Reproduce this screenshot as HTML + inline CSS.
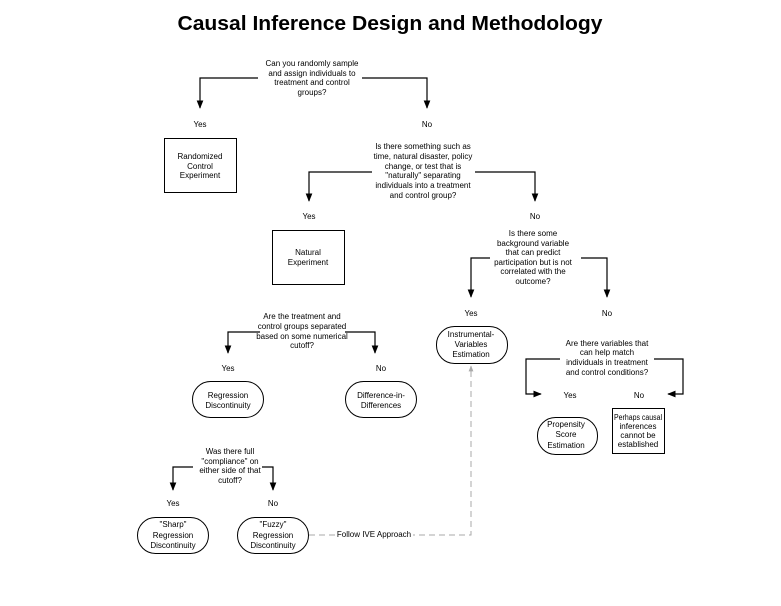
<!DOCTYPE html>
<html><head><meta charset="utf-8"><style>
html,body{margin:0;padding:0;background:#fff;width:781px;height:606px;overflow:hidden}
svg{display:block}
text{font-family:"Liberation Sans",sans-serif;font-size:8px;fill:#000;text-anchor:middle}
.t{font-size:20px;font-weight:bold}
.l{fill:none;stroke:#000;stroke-width:1.2}
.b{fill:#fff;stroke:#000;stroke-width:1}
</style></head><body>
<svg width="781" height="606" viewBox="0 0 781 606">
<defs><marker id="a" viewBox="0 0 10 10" refX="9" refY="5" markerWidth="7" markerHeight="7" orient="auto"><path d="M0,1 L10,5 L0,9 z" fill="#000"/></marker>
<marker id="g" viewBox="0 0 10 10" refX="9" refY="5" markerWidth="6" markerHeight="6" orient="auto"><path d="M0,1 L10,5 L0,9 z" fill="#aaa"/></marker></defs>
<text class="t" x="390" y="30" textLength="425" lengthAdjust="spacingAndGlyphs">Causal Inference Design and Methodology</text>

<text x="312" y="66">Can you randomly sample</text><text x="312" y="76">and assign individuals to</text><text x="312" y="85">treatment and control</text><text x="312" y="95">groups?</text>
<path class="l" d="M258,78 H200 V108" marker-end="url(#a)"/><path class="l" d="M362,78 H427 V108" marker-end="url(#a)"/>
<text x="200" y="127">Yes</text><text x="427" y="127">No</text>
<rect class="b" x="164.5" y="138.5" width="72" height="54"/>
<text x="200" y="159">Randomized</text><text x="200" y="169">Control</text><text x="200" y="178">Experiment</text>

<text x="423" y="149">Is there something such as</text><text x="423" y="159">time, natural disaster, policy</text><text x="423" y="169">change, or test that is</text><text x="423" y="178">"naturally" separating</text><text x="423" y="188">individuals into a treatment</text><text x="423" y="198">and control group?</text>
<path class="l" d="M372,172 H309 V201" marker-end="url(#a)"/><path class="l" d="M475,172 H535 V201" marker-end="url(#a)"/>
<text x="309" y="219">Yes</text><text x="535" y="219">No</text>
<rect class="b" x="272.5" y="230.5" width="72" height="54"/>
<text x="308" y="255">Natural</text><text x="308" y="265">Experiment</text>

<text x="533" y="236">Is there some</text><text x="533" y="246">background variable</text><text x="533" y="255">that can predict</text><text x="533" y="265">participation but is not</text><text x="533" y="274">correlated with the</text><text x="533" y="284">outcome?</text>
<path class="l" d="M490,258 H471 V297" marker-end="url(#a)"/><path class="l" d="M581,258 H607 V297" marker-end="url(#a)"/>
<text x="471" y="316">Yes</text><text x="607" y="316">No</text>
<rect class="b" x="436.5" y="326.5" width="71" height="37" rx="18"/>
<text x="471" y="337">Instrumental-</text><text x="471" y="347">Variables</text><text x="471" y="357">Estimation</text>

<text x="302" y="319">Are the treatment and</text><text x="302" y="329">control groups separated</text><text x="302" y="339">based on some numerical</text><text x="302" y="348">cutoff?</text>
<path class="l" d="M260,332 H228 V353" marker-end="url(#a)"/><path class="l" d="M345,332 H375 V353" marker-end="url(#a)"/>
<text x="228" y="371">Yes</text><text x="381" y="371">No</text>
<rect class="b" x="192.5" y="381.5" width="71" height="36" rx="18"/>
<text x="228" y="398">Regression</text><text x="228" y="408">Discontinuity</text>
<rect class="b" x="345.5" y="381.5" width="71" height="36" rx="18"/>
<text x="381" y="398">Difference-in-</text><text x="381" y="408">Differences</text>

<text x="607" y="346">Are there variables that</text><text x="607" y="355">can help match</text><text x="607" y="365">individuals in treatment</text><text x="607" y="375">and control conditions?</text>
<path class="l" d="M560,359 H526 V394 H541" marker-end="url(#a)"/><path class="l" d="M654,359 H683 V394 H668" marker-end="url(#a)"/>
<text x="570" y="398">Yes</text><text x="639" y="398">No</text>
<rect class="b" x="537.5" y="417.5" width="60" height="37" rx="18"/>
<text x="566" y="427">Propensity</text><text x="566" y="437">Score</text><text x="566" y="448">Estimation</text>
<rect class="b" x="612.5" y="408.5" width="52" height="45"/>
<text x="638" y="420" font-size="7" textLength="48" lengthAdjust="spacingAndGlyphs">Perhaps causal</text><text x="638" y="429" font-size="7">inferences</text><text x="638" y="438" font-size="7">cannot be</text><text x="638" y="447" font-size="7">established</text>

<text x="230" y="454">Was there full</text><text x="230" y="464">"compliance" on</text><text x="230" y="473">either side of that</text><text x="230" y="483">cutoff?</text>
<path class="l" d="M193,467 H173 V490" marker-end="url(#a)"/><path class="l" d="M262,467 H273 V490" marker-end="url(#a)"/>
<text x="173" y="506">Yes</text><text x="273" y="506">No</text>
<rect class="b" x="137.5" y="517.5" width="71" height="36" rx="18"/>
<text x="173" y="527">"Sharp"</text><text x="173" y="538">Regression</text><text x="173" y="548">Discontinuity</text>
<rect class="b" x="237.5" y="517.5" width="71" height="36" rx="18"/>
<text x="273" y="527">"Fuzzy"</text><text x="273" y="538">Regression</text><text x="273" y="548">Discontinuity</text>

<path d="M309,535 H471 V366" fill="none" stroke="#aaa" stroke-width="1" stroke-dasharray="6,4" marker-end="url(#g)"/>
<rect x="335" y="529" width="78" height="10" fill="#fff"/>
<text x="374" y="537">Follow IVE Approach</text>
</svg>
</body></html>
